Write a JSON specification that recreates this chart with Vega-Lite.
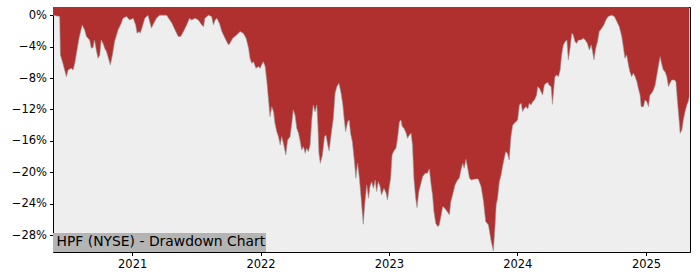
{
  "$schema": "https://vega.github.io/schema/vega-lite/v6.json",
  "width": 637,
  "height": 245,
  "autosize": "none",
  "padding": {"left": 53, "top": 7, "right": 10, "bottom": 28},
  "background": "white",
  "config": {
    "view": {"fill": "#eeeeee", "stroke": "#000000", "strokeWidth": 1},
    "font": "DejaVu Sans",
    "axis": {
      "grid": false, "domain": false,
      "tickSize": 3.5, "tickColor": "#000000", "tickWidth": 1,
      "labelFontSize": 11.5, "labelColor": "#000000", "labelFont": "DejaVu Sans",
      "labelPadding": 3, "labelOverlap": false, "labelFlush": false
    }
  },
  "data": {"values": [
    {"date": "2020-05-21", "dd": 0},
    {"date": "2020-06-09", "dd": -0.17},
    {"date": "2020-06-11", "dd": -5.06},
    {"date": "2020-06-18", "dd": -6.12},
    {"date": "2020-06-28", "dd": -7.82},
    {"date": "2020-07-03", "dd": -6.97},
    {"date": "2020-07-12", "dd": -6.76},
    {"date": "2020-07-17", "dd": -6.97},
    {"date": "2020-07-22", "dd": -6.12},
    {"date": "2020-07-26", "dd": -5.06},
    {"date": "2020-08-03", "dd": -2.93},
    {"date": "2020-08-12", "dd": -1.24},
    {"date": "2020-08-19", "dd": -1.87},
    {"date": "2020-08-24", "dd": -2.72},
    {"date": "2020-09-02", "dd": -3.15},
    {"date": "2020-09-07", "dd": -4.21},
    {"date": "2020-09-12", "dd": -4.10},
    {"date": "2020-09-16", "dd": -3.15},
    {"date": "2020-09-21", "dd": -4.42},
    {"date": "2020-09-26", "dd": -5.48},
    {"date": "2020-10-01", "dd": -5.06},
    {"date": "2020-10-05", "dd": -3.15},
    {"date": "2020-10-10", "dd": -3.57},
    {"date": "2020-10-15", "dd": -4.21},
    {"date": "2020-10-20", "dd": -4.63},
    {"date": "2020-10-27", "dd": -5.69},
    {"date": "2020-10-31", "dd": -6.33},
    {"date": "2020-11-06", "dd": -5.06},
    {"date": "2020-11-12", "dd": -3.36},
    {"date": "2020-11-22", "dd": -1.87},
    {"date": "2020-12-01", "dd": -1.02},
    {"date": "2020-12-06", "dd": -0.39},
    {"date": "2020-12-16", "dd": -0.17},
    {"date": "2020-12-25", "dd": -0.60},
    {"date": "2021-01-04", "dd": -0.39},
    {"date": "2021-01-11", "dd": -1.24},
    {"date": "2021-01-15", "dd": -2.30},
    {"date": "2021-01-21", "dd": -2.08},
    {"date": "2021-01-24", "dd": -2.30},
    {"date": "2021-01-30", "dd": -1.45},
    {"date": "2021-02-06", "dd": -0.39},
    {"date": "2021-02-15", "dd": 0},
    {"date": "2021-02-25", "dd": -1.66},
    {"date": "2021-03-01", "dd": -1.24},
    {"date": "2021-03-11", "dd": -0.39},
    {"date": "2021-03-20", "dd": 0},
    {"date": "2021-04-09", "dd": 0},
    {"date": "2021-04-24", "dd": -1.02},
    {"date": "2021-05-03", "dd": -1.87},
    {"date": "2021-05-12", "dd": -2.72},
    {"date": "2021-05-19", "dd": -2.72},
    {"date": "2021-05-27", "dd": -2.08},
    {"date": "2021-06-05", "dd": -1.24},
    {"date": "2021-06-13", "dd": -0.39},
    {"date": "2021-06-19", "dd": -0.60},
    {"date": "2021-06-29", "dd": -0.39},
    {"date": "2021-07-08", "dd": -0.60},
    {"date": "2021-07-18", "dd": -1.24},
    {"date": "2021-07-23", "dd": -1.45},
    {"date": "2021-07-27", "dd": -0.39},
    {"date": "2021-08-06", "dd": 0},
    {"date": "2021-08-15", "dd": -0.17},
    {"date": "2021-08-20", "dd": -1.24},
    {"date": "2021-08-25", "dd": -0.60},
    {"date": "2021-08-30", "dd": -0.39},
    {"date": "2021-09-06", "dd": -1.02},
    {"date": "2021-09-13", "dd": -2.08},
    {"date": "2021-09-22", "dd": -2.93},
    {"date": "2021-10-02", "dd": -3.78},
    {"date": "2021-10-06", "dd": -3.57},
    {"date": "2021-10-14", "dd": -2.93},
    {"date": "2021-10-25", "dd": -2.51},
    {"date": "2021-11-04", "dd": -2.08},
    {"date": "2021-11-13", "dd": -2.30},
    {"date": "2021-11-21", "dd": -2.93},
    {"date": "2021-11-28", "dd": -4.21},
    {"date": "2021-12-02", "dd": -5.48},
    {"date": "2021-12-07", "dd": -6.12},
    {"date": "2021-12-12", "dd": -5.91},
    {"date": "2021-12-19", "dd": -6.76},
    {"date": "2021-12-26", "dd": -6.54},
    {"date": "2021-12-31", "dd": -6.76},
    {"date": "2022-01-04", "dd": -6.33},
    {"date": "2022-01-09", "dd": -5.91},
    {"date": "2022-01-14", "dd": -6.50},
    {"date": "2022-01-19", "dd": -8.46},
    {"date": "2022-01-25", "dd": -11.43},
    {"date": "2022-01-28", "dd": -12.92},
    {"date": "2022-02-02", "dd": -11.64},
    {"date": "2022-02-07", "dd": -12.28},
    {"date": "2022-02-11", "dd": -13.76},
    {"date": "2022-02-16", "dd": -14.82},
    {"date": "2022-02-21", "dd": -15.46},
    {"date": "2022-02-26", "dd": -16.52},
    {"date": "2022-03-02", "dd": -15.46},
    {"date": "2022-03-07", "dd": -16.31},
    {"date": "2022-03-14", "dd": -17.80},
    {"date": "2022-03-19", "dd": -15.89},
    {"date": "2022-03-26", "dd": -15.46},
    {"date": "2022-03-31", "dd": -13.76},
    {"date": "2022-04-04", "dd": -12.07},
    {"date": "2022-04-09", "dd": -12.70},
    {"date": "2022-04-14", "dd": -14.40},
    {"date": "2022-04-19", "dd": -15.04},
    {"date": "2022-04-23", "dd": -15.89},
    {"date": "2022-04-28", "dd": -17.16},
    {"date": "2022-05-03", "dd": -16.74},
    {"date": "2022-05-08", "dd": -17.58},
    {"date": "2022-05-12", "dd": -16.95},
    {"date": "2022-05-17", "dd": -17.37},
    {"date": "2022-05-22", "dd": -16.52},
    {"date": "2022-05-27", "dd": -13.13},
    {"date": "2022-05-31", "dd": -11.43},
    {"date": "2022-06-05", "dd": -12.28},
    {"date": "2022-06-10", "dd": -11.43},
    {"date": "2022-06-13", "dd": -13.97},
    {"date": "2022-06-16", "dd": -17.58},
    {"date": "2022-06-20", "dd": -18.86},
    {"date": "2022-06-26", "dd": -17.80},
    {"date": "2022-07-02", "dd": -15.46},
    {"date": "2022-07-06", "dd": -15.25},
    {"date": "2022-07-11", "dd": -16.52},
    {"date": "2022-07-15", "dd": -17.29},
    {"date": "2022-07-20", "dd": -15.46},
    {"date": "2022-07-27", "dd": -13.13},
    {"date": "2022-08-01", "dd": -9.94},
    {"date": "2022-08-06", "dd": -9.09},
    {"date": "2022-08-12", "dd": -8.67},
    {"date": "2022-08-18", "dd": -9.94},
    {"date": "2022-08-23", "dd": -11.43},
    {"date": "2022-08-27", "dd": -13.34},
    {"date": "2022-08-31", "dd": -14.82},
    {"date": "2022-09-06", "dd": -13.55},
    {"date": "2022-09-10", "dd": -13.34},
    {"date": "2022-09-14", "dd": -15.04},
    {"date": "2022-09-19", "dd": -16.10},
    {"date": "2022-09-25", "dd": -18.65},
    {"date": "2022-09-29", "dd": -20.76},
    {"date": "2022-10-04", "dd": -18.86},
    {"date": "2022-10-09", "dd": -20.76},
    {"date": "2022-10-14", "dd": -23.31},
    {"date": "2022-10-20", "dd": -26.62},
    {"date": "2022-10-25", "dd": -23.74},
    {"date": "2022-10-30", "dd": -21.61},
    {"date": "2022-11-04", "dd": -23.31},
    {"date": "2022-11-08", "dd": -21.83},
    {"date": "2022-11-13", "dd": -21.19},
    {"date": "2022-11-18", "dd": -22.04},
    {"date": "2022-11-23", "dd": -20.98},
    {"date": "2022-11-27", "dd": -22.46},
    {"date": "2022-12-02", "dd": -21.19},
    {"date": "2022-12-07", "dd": -21.83},
    {"date": "2022-12-11", "dd": -22.89},
    {"date": "2022-12-18", "dd": -22.04},
    {"date": "2022-12-24", "dd": -22.68},
    {"date": "2022-12-28", "dd": -23.52},
    {"date": "2023-01-02", "dd": -21.83},
    {"date": "2023-01-06", "dd": -20.76},
    {"date": "2023-01-10", "dd": -17.80},
    {"date": "2023-01-15", "dd": -17.29},
    {"date": "2023-01-21", "dd": -16.95},
    {"date": "2023-01-25", "dd": -15.89},
    {"date": "2023-01-31", "dd": -13.55},
    {"date": "2023-02-04", "dd": -13.34},
    {"date": "2023-02-08", "dd": -14.19},
    {"date": "2023-02-13", "dd": -14.40},
    {"date": "2023-02-19", "dd": -15.04},
    {"date": "2023-02-23", "dd": -15.67},
    {"date": "2023-02-28", "dd": -15.25},
    {"date": "2023-03-05", "dd": -15.04},
    {"date": "2023-03-09", "dd": -16.52},
    {"date": "2023-03-13", "dd": -20.76},
    {"date": "2023-03-18", "dd": -23.31},
    {"date": "2023-03-22", "dd": -24.50},
    {"date": "2023-03-27", "dd": -22.46},
    {"date": "2023-04-01", "dd": -21.61},
    {"date": "2023-04-07", "dd": -20.55},
    {"date": "2023-04-14", "dd": -20.13},
    {"date": "2023-04-20", "dd": -20.13},
    {"date": "2023-04-26", "dd": -19.58},
    {"date": "2023-05-01", "dd": -21.61},
    {"date": "2023-05-05", "dd": -22.89},
    {"date": "2023-05-09", "dd": -25.01},
    {"date": "2023-05-14", "dd": -26.49},
    {"date": "2023-05-20", "dd": -26.92},
    {"date": "2023-05-24", "dd": -26.71},
    {"date": "2023-05-28", "dd": -25.86},
    {"date": "2023-06-03", "dd": -24.37},
    {"date": "2023-06-09", "dd": -24.59},
    {"date": "2023-06-16", "dd": -25.01},
    {"date": "2023-06-22", "dd": -25.43},
    {"date": "2023-06-26", "dd": -23.74},
    {"date": "2023-07-01", "dd": -22.89},
    {"date": "2023-07-08", "dd": -21.61},
    {"date": "2023-07-15", "dd": -20.98},
    {"date": "2023-07-20", "dd": -20.76},
    {"date": "2023-07-25", "dd": -19.71},
    {"date": "2023-07-30", "dd": -18.86},
    {"date": "2023-08-03", "dd": -19.50},
    {"date": "2023-08-08", "dd": -18.35},
    {"date": "2023-08-13", "dd": -19.50},
    {"date": "2023-08-18", "dd": -20.76},
    {"date": "2023-08-24", "dd": -20.98},
    {"date": "2023-09-03", "dd": -20.85},
    {"date": "2023-09-12", "dd": -20.85},
    {"date": "2023-09-20", "dd": -21.83},
    {"date": "2023-09-27", "dd": -23.74},
    {"date": "2023-10-03", "dd": -26.28},
    {"date": "2023-10-11", "dd": -26.71},
    {"date": "2023-10-18", "dd": -28.62},
    {"date": "2023-10-25", "dd": -30.02},
    {"date": "2023-10-30", "dd": -26.71},
    {"date": "2023-11-02", "dd": -24.16},
    {"date": "2023-11-06", "dd": -23.31},
    {"date": "2023-11-11", "dd": -21.19},
    {"date": "2023-11-16", "dd": -20.34},
    {"date": "2023-11-20", "dd": -19.28},
    {"date": "2023-11-25", "dd": -18.22},
    {"date": "2023-11-29", "dd": -17.37},
    {"date": "2023-12-04", "dd": -17.58},
    {"date": "2023-12-09", "dd": -18.43},
    {"date": "2023-12-14", "dd": -15.46},
    {"date": "2023-12-19", "dd": -13.97},
    {"date": "2023-12-24", "dd": -13.76},
    {"date": "2023-12-28", "dd": -13.55},
    {"date": "2024-01-02", "dd": -13.34},
    {"date": "2024-01-07", "dd": -11.43},
    {"date": "2024-01-12", "dd": -11.22},
    {"date": "2024-01-16", "dd": -12.28},
    {"date": "2024-01-21", "dd": -11.85},
    {"date": "2024-01-26", "dd": -11.64},
    {"date": "2024-01-31", "dd": -11.94},
    {"date": "2024-02-04", "dd": -11.22},
    {"date": "2024-02-09", "dd": -11.43},
    {"date": "2024-02-14", "dd": -11.00},
    {"date": "2024-02-19", "dd": -10.79},
    {"date": "2024-02-25", "dd": -10.15},
    {"date": "2024-02-28", "dd": -9.09},
    {"date": "2024-03-04", "dd": -9.30},
    {"date": "2024-03-09", "dd": -9.80},
    {"date": "2024-03-13", "dd": -10.15},
    {"date": "2024-03-18", "dd": -8.88},
    {"date": "2024-03-23", "dd": -8.67},
    {"date": "2024-03-28", "dd": -8.55},
    {"date": "2024-03-31", "dd": -8.88},
    {"date": "2024-04-06", "dd": -9.09},
    {"date": "2024-04-10", "dd": -11.34},
    {"date": "2024-04-13", "dd": -9.73},
    {"date": "2024-04-17", "dd": -7.82},
    {"date": "2024-04-22", "dd": -7.61},
    {"date": "2024-04-27", "dd": -7.82},
    {"date": "2024-05-02", "dd": -6.97},
    {"date": "2024-05-06", "dd": -5.06},
    {"date": "2024-05-11", "dd": -3.78},
    {"date": "2024-05-16", "dd": -3.36},
    {"date": "2024-05-21", "dd": -3.15},
    {"date": "2024-05-25", "dd": -5.69},
    {"date": "2024-05-30", "dd": -4.21},
    {"date": "2024-06-04", "dd": -2.30},
    {"date": "2024-06-08", "dd": -2.51},
    {"date": "2024-06-13", "dd": -3.36},
    {"date": "2024-06-18", "dd": -3.57},
    {"date": "2024-06-23", "dd": -3.15},
    {"date": "2024-06-30", "dd": -3.15},
    {"date": "2024-07-07", "dd": -2.93},
    {"date": "2024-07-12", "dd": -3.15},
    {"date": "2024-07-18", "dd": -3.57},
    {"date": "2024-07-24", "dd": -4.42},
    {"date": "2024-07-29", "dd": -3.78},
    {"date": "2024-08-02", "dd": -4.63},
    {"date": "2024-08-06", "dd": -5.69},
    {"date": "2024-08-11", "dd": -4.21},
    {"date": "2024-08-16", "dd": -3.36},
    {"date": "2024-08-21", "dd": -2.08},
    {"date": "2024-08-28", "dd": -1.66},
    {"date": "2024-09-03", "dd": -1.24},
    {"date": "2024-09-09", "dd": -0.60},
    {"date": "2024-09-15", "dd": -0.17},
    {"date": "2024-09-25", "dd": 0},
    {"date": "2024-10-03", "dd": -0.17},
    {"date": "2024-10-10", "dd": -0.81},
    {"date": "2024-10-17", "dd": -1.45},
    {"date": "2024-10-24", "dd": -2.72},
    {"date": "2024-10-29", "dd": -4.21},
    {"date": "2024-11-02", "dd": -5.48},
    {"date": "2024-11-07", "dd": -5.06},
    {"date": "2024-11-12", "dd": -6.33},
    {"date": "2024-11-16", "dd": -7.18},
    {"date": "2024-11-21", "dd": -7.82},
    {"date": "2024-11-26", "dd": -7.39},
    {"date": "2024-12-01", "dd": -7.82},
    {"date": "2024-12-06", "dd": -8.46},
    {"date": "2024-12-10", "dd": -9.30},
    {"date": "2024-12-15", "dd": -10.15},
    {"date": "2024-12-18", "dd": -11.64},
    {"date": "2024-12-25", "dd": -11.64},
    {"date": "2024-12-29", "dd": -10.79},
    {"date": "2025-01-03", "dd": -11.00},
    {"date": "2025-01-08", "dd": -11.64},
    {"date": "2025-01-12", "dd": -10.15},
    {"date": "2025-01-17", "dd": -9.94},
    {"date": "2025-01-22", "dd": -9.52},
    {"date": "2025-01-27", "dd": -8.88},
    {"date": "2025-01-31", "dd": -7.82},
    {"date": "2025-02-05", "dd": -6.54},
    {"date": "2025-02-10", "dd": -5.27},
    {"date": "2025-02-14", "dd": -6.12},
    {"date": "2025-02-19", "dd": -6.97},
    {"date": "2025-02-24", "dd": -7.18},
    {"date": "2025-03-01", "dd": -7.82},
    {"date": "2025-03-06", "dd": -9.09},
    {"date": "2025-03-10", "dd": -8.67},
    {"date": "2025-03-15", "dd": -8.24},
    {"date": "2025-03-23", "dd": -8.24},
    {"date": "2025-03-27", "dd": -8.46},
    {"date": "2025-03-31", "dd": -10.79},
    {"date": "2025-04-05", "dd": -13.34},
    {"date": "2025-04-08", "dd": -15.04},
    {"date": "2025-04-13", "dd": -14.61},
    {"date": "2025-04-17", "dd": -13.34},
    {"date": "2025-04-22", "dd": -12.28},
    {"date": "2025-04-27", "dd": -11.43},
    {"date": "2025-05-01", "dd": -11.00},
    {"date": "2025-05-04", "dd": -10.36}
  ]},
  "layer": [
    {
      "mark": {"type": "area", "color": "#b03030", "interpolate": "linear"},
      "encoding": {
        "x": {
          "field": "date", "type": "temporal",
          "scale": {"domain": ["2020-05-21", "2025-05-06"]},
          "axis": {
            "title": null, "format": "%Y",
            "tickCount": {"interval": "year", "step": 1}
          }
        },
        "y": {
          "field": "dd", "type": "quantitative",
          "scale": {"domain": [-30.15, 1.05], "nice": false, "zero": false},
          "axis": {
            "title": null,
            "tickCount": 20,
            "values": [0, -4, -8, -12, -16, -20, -24, -28],
            "labelExpr": "datum.value == 0 ? '0%' : '−' + abs(datum.value) + '%'"
          }
        },
        "y2": {"datum": 1.05}
      }
    },
    {
      "mark": {"type": "line", "color": "#9a9a9a", "strokeWidth": 0.6},
      "encoding": {
        "x": {"field": "date", "type": "temporal", "title": null},
        "y": {"field": "dd", "type": "quantitative", "title": null}
      }
    },
    {
      "data": {"values": [{"label": "HPF (NYSE) - Drawdown Chart"}]},
      "mark": {"type": "rect", "color": "#b4b4b4"},
      "encoding": {
        "x": {"value": 0}, "x2": {"value": 213},
        "y": {"value": 226}, "y2": {"value": 245}
      }
    },
    {
      "data": {"values": [{"label": "HPF (NYSE) - Drawdown Chart"}]},
      "mark": {"type": "text", "align": "left", "baseline": "alphabetic", "fontSize": 13.9, "color": "#000000", "font": "DejaVu Sans"},
      "encoding": {
        "text": {"field": "label", "type": "nominal"},
        "x": {"value": 3.5}, "y": {"value": 239}
      }
    }
  ]
}
